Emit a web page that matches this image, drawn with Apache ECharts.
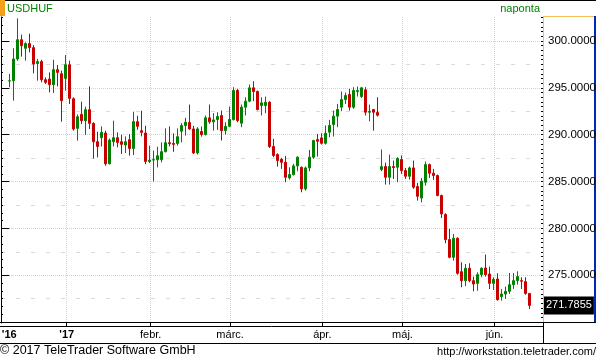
<!DOCTYPE html>
<html><head><meta charset="utf-8">
<script src="https://cdn.jsdelivr.net/npm/echarts@6/dist/echarts.min.js"></script>
<style>html,body{margin:0;padding:0;background:#fff}#c{width:596px;height:360px}</style>
</head><body><div id="c"></div>
<script>
// ---- data (one value per session) ----
const opens = [295.73,295.77,298.08,300.14,299.22,299.72,299.29,297.60,297.80,295.87,295.94,295.34,296.94,296.51,296.01,297.47,293.84,290.68,292.17,291.50,292.67,291.21,289.25,289.68,290.18,286.90,289.25,289.68,289.25,288.90,289.47,288.54,291.39,290.43,290.18,287.15,287.30,287.33,287.33,288.19,289.15,289.07,289.07,290.37,290.98,291.30,290.62,288.06,290.34,290.02,291.80,291.37,291.62,292.05,290.44,290.90,291.62,294.72,291.23,292.94,293.58,295.00,294.61,293.11,293.11,293.47,288.74,287.88,287.38,287.06,285.39,285.75,286.67,286.53,284.22,286.46,287.60,289.48,289.66,289.09,290.27,291.09,291.98,292.94,293.75,294.29,292.94,294.60,294.07,294.79,292.40,292.69,292.37,286.28,286.60,285.46,286.60,286.53,287.35,286.17,285.57,286.46,284.47,283.25,284.93,286.81,285.89,285.64,283.51,281.48,278.81,276.92,278.95,275.39,274.43,275.75,274.43,274.14,275.07,275.78,275.14,274.14,274.60,272.72,273.00,273.29,274.00,274.43,274.43,274.32,273.07];
const closes = [295.75,298.08,300.14,299.50,299.72,299.29,297.54,297.80,295.87,295.59,295.34,296.94,296.65,293.63,297.47,293.88,290.60,291.92,291.50,292.67,291.21,289.25,288.75,290.25,286.90,289.43,289.68,289.18,288.97,289.25,288.54,291.39,290.89,290.25,287.15,287.29,287.33,287.76,288.19,289.15,289.04,288.97,289.79,290.98,291.33,290.62,288.06,290.62,290.02,291.80,291.37,291.58,291.94,290.44,290.90,291.62,294.72,291.51,292.94,293.58,295.00,294.61,292.69,293.40,293.47,288.74,287.78,287.24,287.06,285.46,285.75,286.67,287.60,284.22,286.46,287.60,289.38,289.30,289.09,290.16,290.98,291.98,292.69,293.75,294.18,292.94,294.72,294.72,295.00,292.40,292.50,292.40,292.08,286.60,285.46,286.60,286.50,287.46,286.17,285.57,286.46,284.40,283.43,285.04,286.81,285.89,285.64,283.51,281.55,278.81,276.92,278.95,275.21,274.43,275.75,274.43,274.07,275.07,275.75,275.07,274.14,274.57,272.40,273.00,273.29,274.00,274.43,274.86,274.36,273.07,271.79];
const lows = [295.05,293.63,297.90,298.33,297.90,298.79,296.55,295.77,295.60,295.41,294.52,294.45,295.16,291.39,294.70,293.27,290.43,289.36,291.14,289.96,290.60,287.47,287.58,288.75,286.69,286.83,288.75,288.65,287.94,288.04,287.76,287.83,290.53,289.82,286.87,286.97,285.02,286.51,287.05,288.11,288.75,288.18,288.83,289.20,289.91,290.52,287.95,287.88,289.80,289.91,291.16,290.44,290.52,289.38,290.02,290.80,291.51,291.33,290.80,292.05,293.47,293.58,292.58,292.05,292.30,288.59,287.60,286.60,286.35,284.93,285.21,285.64,286.10,283.86,284.04,286.10,287.42,287.67,288.95,288.95,289.73,289.80,290.80,292.51,293.29,292.58,292.76,294.07,293.93,292.05,291.44,290.44,291.94,286.10,284.68,284.68,285.28,284.93,285.82,285.28,285.21,284.22,282.97,282.79,284.57,285.39,285.18,283.43,281.12,278.42,276.81,276.57,275.07,273.72,273.83,274.25,273.29,273.36,274.79,274.86,273.54,273.43,272.30,272.30,272.47,273.00,273.54,274.00,273.54,272.93,271.40];
const highs = [296.48,299.22,302.42,300.68,299.86,300.78,299.57,298.08,298.00,296.12,296.65,298.00,297.44,296.83,298.50,297.90,293.99,292.17,293.52,292.99,295.16,291.32,290.32,290.89,290.43,289.60,291.50,290.25,290.00,289.82,290.07,292.46,292.03,292.56,290.96,288.83,288.30,288.72,289.18,290.68,290.89,290.14,290.68,291.23,291.80,293.22,290.94,290.80,290.87,292.05,293.22,292.30,292.40,292.58,291.33,293.00,295.07,294.89,293.22,294.00,295.36,295.71,294.72,294.00,294.07,293.58,289.56,288.02,287.53,287.74,286.53,286.89,287.70,286.60,286.60,288.38,289.45,290.09,290.16,290.98,291.58,292.58,293.29,294.61,294.50,294.89,295.07,295.14,295.10,295.07,293.22,292.75,294.00,288.42,287.03,287.88,287.24,287.60,287.78,286.46,286.60,287.24,284.86,285.39,287.14,286.92,286.35,285.75,283.61,281.62,279.95,279.41,279.06,276.39,276.21,276.28,274.86,275.32,275.86,277.21,275.93,274.79,275.21,273.54,273.79,275.25,275.25,275.43,274.79,274.79,273.07];
const lastPrice = 271.7855;
const tickLabels = ["'16", "'17", "febr.", "márc.", "ápr.", "máj.", "jún."];
const tickPos = [0, 14.35, 35.35, 55.2, 78.25, 98.3, 121.3];   // session-index positions
const monthLines = [14.35, 35.35, 55.2, 78.25, 98.3, 121.3];
const yMajor = [275, 280, 285, 290, 295, 300];
const yDashed = [272.5, 277.5, 282.5, 287.5, 292.5, 297.5];

// ---- geometry ----
const Y_MIN = 269.91, Y_MAX = 302.56;
const X_MIN = -2.075, X_MAX = 133.425;
const rightMinor = [], leftMinor = [];
for (let v = 270; v <= 302.51; v += 0.5) rightMinor.push(+v.toFixed(2));
for (let v = 270; v <= 302.5; v += 5 / 6) leftMinor.push(+v.toFixed(3));

const sessionIndex = opens.map((_, i) => i);
const candles = sessionIndex.map(i => [i, opens[i], closes[i], lows[i], highs[i]]);

const FONT = 'Liberation Sans';
function yAx(extra) {
  return Object.assign({
    type: 'value', min: Y_MIN, max: Y_MAX, position: 'right', scale: true,
    axisLine: { show: false }, axisTick: { show: false }, axisLabel: { show: false },
    splitLine: { show: false }
  }, extra);
}
const chart = echarts.init(document.getElementById('c'), null, { renderer: 'canvas' });
chart.setOption({
  animation: false,
  backgroundColor: '#fff',
  grid: { left: 1, right: 53, top: 17, bottom: 37, containLabel: false, outerBoundsMode: 'none' },
  xAxis: [
    {
      type: 'value', min: X_MIN, max: X_MAX, position: 'bottom',
      axisLine: { show: false },
      axisTick: { show: true, customValues: monthLines, length: 3, lineStyle: { color: '#000' } },
      axisLabel: {
        show: true, customValues: tickPos, margin: 6, color: '#000', fontFamily: FONT, fontSize: 11,
        formatter: v => {
          let i = tickPos.findIndex(p => Math.abs(p - v) < 1e-6);
          if (i < 0) return '';
          return i < 2 ? '{b|' + tickLabels[i] + '}' : tickLabels[i];
        },
        rich: { b: { fontWeight: 'bold', fontFamily: FONT, fontSize: 11, color: '#000' } }
      },
      splitLine: { show: true, lineStyle: { color: '#d2d2d2', type: [1, 1], width: 1 } }
    }
  ],
  yAxis: [
    yAx({
      axisTick: { show: true, inside: true, length: 5, customValues: yMajor, lineStyle: { color: '#000' } },
      axisLabel: { show: true, customValues: yMajor, formatter: v => v.toFixed(4), color: '#000', fontFamily: FONT, fontSize: 11.5, margin: 5 },
      splitLine: { show: true, lineStyle: { color: '#d2d2d2', type: [1, 1], width: 1 } }
    }),
    yAx({ axisTick: { show: true, inside: true, length: 2, customValues: rightMinor, lineStyle: { color: '#000' } } }),
    yAx({ axisTick: { show: false, customValues: yDashed }, splitLine: { show: true, lineStyle: { color: '#dadada', type: [4, 11], width: 1 } } }),
    yAx({ position: 'left', axisLine: { show: true, lineStyle: { color: '#000' } },
          axisTick: { show: true, inside: true, length: 2, customValues: leftMinor, lineStyle: { color: '#000' } } }),
    yAx({ position: 'left', axisTick: { show: true, inside: true, length: 5, customValues: yMajor, lineStyle: { color: '#000' } } }),
    yAx({ axisLabel: { show: true, customValues: [lastPrice], formatter: v => v.toFixed(4), color: '#fff', backgroundColor: '#000',
          padding: [4, 2, 3, 2], fontFamily: FONT, fontSize: 11, margin: 1 } })
  ],
  series: [{
    type: 'candlestick', xAxisIndex: 0, yAxisIndex: 0, barWidth: 2,
    encode: { x: 0, y: [1, 2, 3, 4] },
    data: candles,
    itemStyle: { color: '#008000', color0: '#c80000', borderColor: '#008000', borderColor0: '#c80000', borderWidth: 1 }
  }],
  graphic: [
    { type: 'line', shape: { x1: 0, y1: 0.5, x2: 596, y2: 0.5 }, style: { stroke: '#000', lineWidth: 1 } },
    { type: 'rect', shape: { x: 0, y: 0, width: 5, height: 16 }, style: { fill: '#f5a01a' } },
    { type: 'text', x: 7, y: 8.5, style: { text: 'USDHUF', fill: '#008000', font: '11px "Liberation Sans"', textVerticalAlign: 'middle' } },
    { type: 'text', x: 540, y: 9, style: { text: 'naponta', fill: '#008000', font: '11px "Liberation Sans"', textAlign: 'right', textVerticalAlign: 'middle' } },
    { type: 'line', shape: { x1: 543.5, y1: 16.5, x2: 543.5, y2: 323 }, style: { stroke: '#f2c14e', lineWidth: 1 } },
    { type: 'line', shape: { x1: 543, y1: 16.5, x2: 594, y2: 16.5 }, style: { stroke: '#f2c14e', lineWidth: 1 } },
    { type: 'line', shape: { x1: 595, y1: 16, x2: 595, y2: 323 }, style: { stroke: '#0028b4', lineWidth: 2 } },
    { type: 'line', shape: { x1: 0, y1: 322.5, x2: 596, y2: 322.5 }, style: { stroke: '#000', lineWidth: 1 } },
    { type: 'line', shape: { x1: 0, y1: 326.5, x2: 543, y2: 326.5 }, style: { stroke: '#000', lineWidth: 1 } },
    { type: 'line', shape: { x1: 0, y1: 343.5, x2: 596, y2: 343.5 }, style: { stroke: '#000', lineWidth: 1 } },
    { type: 'line', shape: { x1: 543.5, y1: 323, x2: 543.5, y2: 343 }, style: { stroke: '#000', lineWidth: 1 } },
    { type: 'text', x: 0, y: 351, style: { text: '© 2017 TeleTrader Software GmbH', fill: '#000', font: '12.5px "Liberation Sans"', textVerticalAlign: 'middle' } },
    { type: 'text', x: 596, y: 351.5, style: { text: 'http://workstation.teletrader.com/', fill: '#000', font: '11px "Liberation Sans"', textAlign: 'right', textVerticalAlign: 'middle' } }
  ]
});
</script></body></html>
